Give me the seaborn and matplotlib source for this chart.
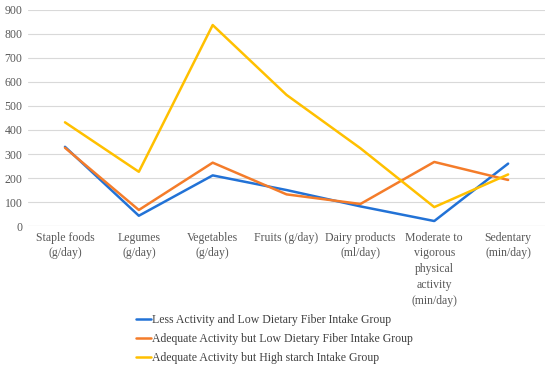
import pandas as pd
import matplotlib.pyplot as plt
import seaborn as sns

# Data
categories = ['Staple foods\n(g/day)', 'Legumes\n(g/day)', 'Vegetables\n(g/day)',
              'Fruits (g/day)', 'Dairy products\n(ml/day)',
              'Moderate to\nvigorous\nphysical\nactivity\n(min/day)', 'Sedentary\n(min/day)']
groups = ['Less Activity and Low Dietary Fiber Intake Group',
          'Adequate Activity but Low Dietary Fiber Intake Group',
          'Adequate Activity but High starch Intake Group']
less_active_low_fiber = [330, 43, 211, 150, 82, 21, 260]
active_low_fiber = [326, 67, 264, 132, 92, 267, 192]
active_high_starch = [432, 226, 837, 546, 324, 79, 215]
colors = ['#2272d6', '#f47c2a', '#ffc000']

df = pd.DataFrame({
    'pos': list(range(len(categories))) * 3,
    'value': less_active_low_fiber + active_low_fiber + active_high_starch,
    'group': [g for g in groups for _ in categories],
})

sns.set_style('white')
plt.rcParams['font.family'] = ['Liberation Serif', 'DejaVu Serif']

fig = plt.figure(figsize=(5.5, 3.67), dpi=100)
ax = fig.add_axes([0.051, 0.384, 0.94, 0.589])

sns.lineplot(data=df, x='pos', y='value', hue='group', palette=colors,
             linewidth=1.8, sort=False, legend=False, ax=ax)

ax.set_xlim(-0.5, len(categories) - 0.5)
ax.set_ylim(0, 900)
ax.set_yticks(range(0, 901, 100))
ax.set_xticks(range(len(categories)))
ax.set_xticklabels(categories, fontsize=8.5, color='#595959', linespacing=1.42)
ax.tick_params(axis='y', labelsize=8.5, labelcolor='#595959', length=0, pad=4)
ax.tick_params(axis='x', length=0, pad=4)
ax.yaxis.grid(True, color='#d9d9d9', linewidth=0.8)
ax.set_axisbelow(True)
for s in ax.spines.values():
    s.set_visible(False)
ax.axhline(0, color='#d9d9d9', linewidth=0.8, zorder=0)
ax.set_xlabel('')
ax.set_ylabel('')

handles = [plt.Line2D([], [], color=c, linewidth=1.8) for c in colors]
fig.legend(handles, groups, loc='upper left', bbox_to_anchor=(0.238, 0.158),
           frameon=False, fontsize=8.5, handlelength=1.3, handletextpad=0.1,
           labelspacing=0.62, labelcolor='#404040', borderaxespad=0)

fig.savefig('out.png', dpi=100)
